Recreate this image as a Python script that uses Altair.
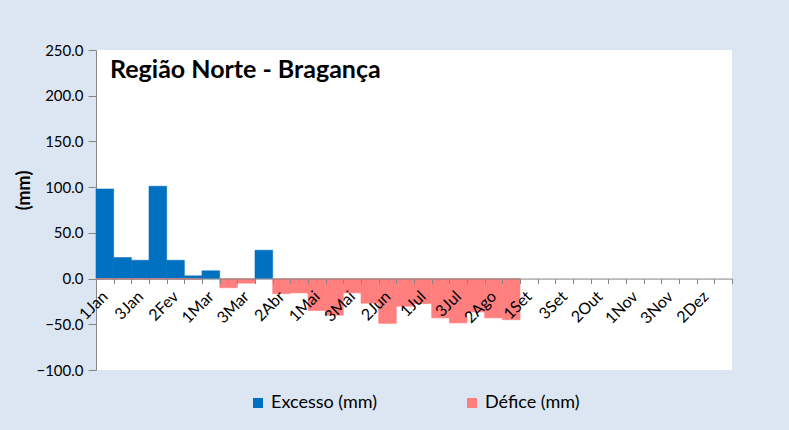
import json
import altair as alt
import pandas as pd

decadas = ["1Jan", "2Jan", "3Jan", "1Fev", "2Fev", "3Fev", "1Mar", "2Mar", "3Mar",
           "1Abr", "2Abr", "3Abr", "1Mai", "2Mai", "3Mai", "1Jun", "2Jun", "3Jun",
           "1Jul", "2Jul", "3Jul", "1Ago", "2Ago", "3Ago", "1Set", "2Set", "3Set",
           "1Out", "2Out", "3Out", "1Nov", "2Nov", "3Nov", "1Dez", "2Dez", "3Dez"]

excesso = [98, 23, 20, 101, 20, 3, 8.5, 0, 0, 31, 0, 0,
           0, 0, 0, 0, 0, 0, 0, 0, 0, 0, 0, 0,
           0, 0, 0, 0, 0, 0, 0, 0, 0, 0, 0, 0]

defice = [-1, -1, -1, -1, -1, -1, 0, -10, -5, 0, -16.5, -15.7,
          -35, -40, -15.7, -27, -49, -30.3, -27.4, -43, -48.5, -36.5, -43, -45,
          0, 0, 0, 0, 0, 0, 0, 0, 0, 0, 0, 0]

rotulos = ["1Jan", "3Jan", "2Fev", "1Mar", "3Mar", "2Abr", "1Mai", "3Mai", "2Jun",
           "1Jul", "3Jul", "2Ago", "1Set", "3Set", "2Out", "1Nov", "3Nov", "2Dez"]

y_ticks = [-100, -50, 0, 50, 100, 150, 200, 250]

series = ["Excesso (mm)", "Défice (mm)"]
cores = ["#0070C0", "#FF7F7F"]

rows = []
for d, e, f in zip(decadas, excesso, defice):
    rows.append({"decada": d, "serie": series[0], "valor": e})
    rows.append({"decada": d, "serie": series[1], "valor": f})
df = pd.DataFrame(rows)

FONT = "Lato"
label_expr = "indexof(" + json.dumps(rotulos) + ", datum.value) >= 0 ? datum.value : ''"

W, H = 636, 320
zero_from_bottom = H * 100 / 350

chart = alt.Chart(df).transform_filter(
    "datum.valor != 0"
).mark_bar(strokeWidth=0.6).encode(
    x=alt.X("decada:N", sort=decadas,
            scale=alt.Scale(domain=decadas, paddingInner=0, paddingOuter=0),
            axis=alt.Axis(title=None, labelAngle=-45, labelAlign="right",
                          labelBaseline="middle", labelExpr=label_expr,
                          labelOverlap=False, offset=-zero_from_bottom,
                          tickSize=5, tickColor="#868686", domainColor="#868686",
                          labelFont=FONT, labelFontSize=16, labelColor="#000000",
                          labelPadding=10, tickBand="extent", zindex=1)),
    y=alt.Y("valor:Q", stack=None,
            scale=alt.Scale(domain=[-100, 250], nice=False, zero=False),
            axis=alt.Axis(values=y_ticks, format=".1f", title="(mm)", grid=False,
                          tickSize=8, tickColor="#868686", domainColor="#868686",
                          labelFont=FONT, labelFontSize=15, labelColor="#000000",
                          labelPadding=5,
                          titleFont=FONT, titleFontSize=18, titleFontWeight="bold",
                          titleColor="#000000", titleAngle=-90,
                          titleX=-72, titleY=140, titleAlign="center",
                          titleBaseline="middle")),
    color=alt.Color("serie:N", scale=alt.Scale(domain=series, range=cores),
                    legend=alt.Legend(title=None, orient="none", legendX=153,
                                      legendY=344, direction="horizontal",
                                      symbolType="square", symbolSize=100,
                                      symbolStrokeWidth=0, labelFont=FONT,
                                      labelFontSize=18, labelColor="#000000",
                                      columnPadding=85, labelPadding=6)),
    stroke=alt.Stroke("serie:N", scale=alt.Scale(domain=series, range=cores),
                      legend=None),
).properties(
    width=W, height=H,
    autosize="none",
    padding={"left": 96, "top": 50, "right": 57, "bottom": 60},
    background="#DCE6F2",
    title=alt.TitleParams("Região Norte - Bragança", anchor="start", frame="group",
                          baseline="top", dx=14, dy=44, font=FONT, fontSize=25,
                          fontWeight="bold", color="#000000"),
).configure_view(fill="white", stroke=None)

chart.save("out.html", embed_options={"renderer": "svg", "actions": False})
